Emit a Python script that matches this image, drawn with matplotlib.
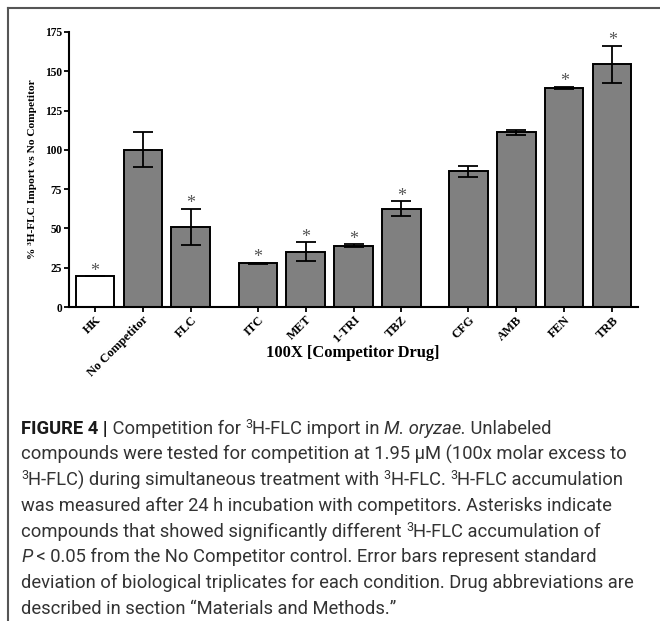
import matplotlib
matplotlib.use('Agg')
import matplotlib.pyplot as plt
from matplotlib import font_manager
from matplotlib.lines import Line2D

# data
drugs = ['HK', 'No Competitor', 'FLC', 'ITC', 'MET', '1-TRI', 'TBZ',
         'CFG', 'AMB', 'FEN', 'TRB']
group_sizes = [3, 4, 4]
pct = [19.5, 100, 51, 27.8, 35.2, 39, 62.4, 86.4, 111.2, 139.4, 154.5]
sd = [0.0, 11.2, 11.5, 0.5, 6.0, 0.8, 4.8, 3.6, 1.5, 0.7, 11.8]
signif = [True, False, True, True, True, True, True, False, False, True, True]

W, H, DPI = 660, 621, 100
fig = plt.figure(figsize=(W / DPI, H / DPI), dpi=DPI)

def fx(px):
    return px / W

def fy(py):
    return 1 - py / H

serif = 'Liberation Serif'
names = {f.name for f in font_manager.fontManager.ttflist}
cap_font = 'DejaVu Sans'
for cand in ['Roboto', 'Liberation Sans', 'Open Sans']:
    if cand in names:
        cap_font = cand
        break

# bar positions: groups separated by a gap
pos = []
x = 0.0
for g in group_sizes:
    for i in range(g):
        pos.append(x)
        x += 1
    x += 0.4

ax = fig.add_axes([fx(69), fy(307), fx(638 - 69), fy(32) - fy(307)])
colors = ['white'] + ['#808080'] * (len(drugs) - 1)
ax.bar(pos, pct, width=0.8, color=colors, edgecolor='black', linewidth=1.4, zorder=2)
ax.errorbar(pos, pct, yerr=sd, fmt='none', ecolor='black', elinewidth=1.3,
            capsize=7, capthick=1.3, zorder=3)
for p, v, e, s in zip(pos, pct, sd, signif):
    if s:
        ax.annotate('*', (p, v + e), xytext=(0, 0.5), textcoords='offset points',
                    ha='center', va='baseline', fontsize=13, color='#555555',
                    family=serif)

ax.set_xlim(-0.54, pos[-1] + 0.54)
ax.set_ylim(0, 175)
ax.set_yticks(range(0, 176, 25))
ax.set_xticks(pos)
ax.set_xticklabels(drugs, rotation=45, ha='right', rotation_mode='anchor',
                   fontsize=9, fontweight='bold', family=serif)
for lab in ax.get_yticklabels():
    lab.set_fontsize(8.3)
    lab.set_fontweight('bold')
    lab.set_family(serif)
ax.tick_params(axis='both', length=3.5, width=1.3, pad=1.5)
for sp in ['top', 'right']:
    ax.spines[sp].set_visible(False)
for sp in ['left', 'bottom']:
    ax.spines[sp].set_linewidth(1.5)
ax.set_ylabel('% \u00b3H-FLC Import vs No Competitor', fontsize=8.2,
              fontweight='bold', family=serif)
ax.yaxis.set_label_coords(-0.056, 0.5)
fig.text(fx(353), fy(353), '100X [Competitor Drug]', ha='center', va='center',
         fontsize=11.9, fontweight='bold', family=serif)

# figure frame (top and left rules)
fig.add_artist(Line2D([fx(8), 1], [fy(8), fy(8)], color='#555555', lw=1.5))
fig.add_artist(Line2D([fx(8), fx(8)], [fy(8), 0], color='#555555', lw=1.5))

# caption
N = dict(family=cap_font, weight='normal')
B = dict(family=cap_font, weight='bold')
I = dict(family=cap_font, weight='normal', style='italic')
S = dict(family=cap_font, weight='normal', sup=True)
lines = [
    [('FIGURE 4 |', B), (' Competition for ', N), ('3', S), ('H-FLC import in ', N),
     ('M. oryzae.', I), (' Unlabeled', N)],
    [('compounds were tested for competition at 1.95 \u00b5M (100x molar excess to', N)],
    [('3', S), ('H-FLC) during simultaneous treatment with ', N), ('3', S),
     ('H-FLC. ', N), ('3', S), ('H-FLC accumulation', N)],
    [('was measured after 24 h incubation with competitors. Asterisks indicate', N)],
    [('compounds that showed significantly different ', N), ('3', S),
     ('H-FLC accumulation of', N)],
    [('P', I), (' < 0.05 from the No Competitor control. Error bars represent standard', N)],
    [('deviation of biological triplicates for each condition. Drug abbreviations are', N)],
    [('described in section \u201cMaterials and Methods.\u201d', N)],
]

renderer = fig.canvas.get_renderer()
# fit caption font size so the second line spans the same width as the reference
probe = fig.text(0, 0, lines[1][0][0], fontsize=10, family=cap_font, weight='normal')
wpx = probe.get_window_extent(renderer).width
probe.remove()
cap_size = 10 * (625 - 21) / wpx

def draw_line(x0, ybase, runs):
    xp = x0
    for txt, st in runs:
        st = dict(st)
        sup = st.pop('sup', False)
        size = cap_size * (0.68 if sup else 1)
        yy = ybase - (6 if sup else 0)
        col = '#1a1a1a' if st.get('weight') == 'bold' else '#333333'
        t = fig.text(fx(xp), fy(yy), txt, fontsize=size, va='baseline',
                     color=col, **st)
        xp = t.get_window_extent(renderer).x1

for k, runs in enumerate(lines):
    draw_line(21, 434 + k * 25.7, runs)

fig.savefig('out.png', dpi=DPI)
